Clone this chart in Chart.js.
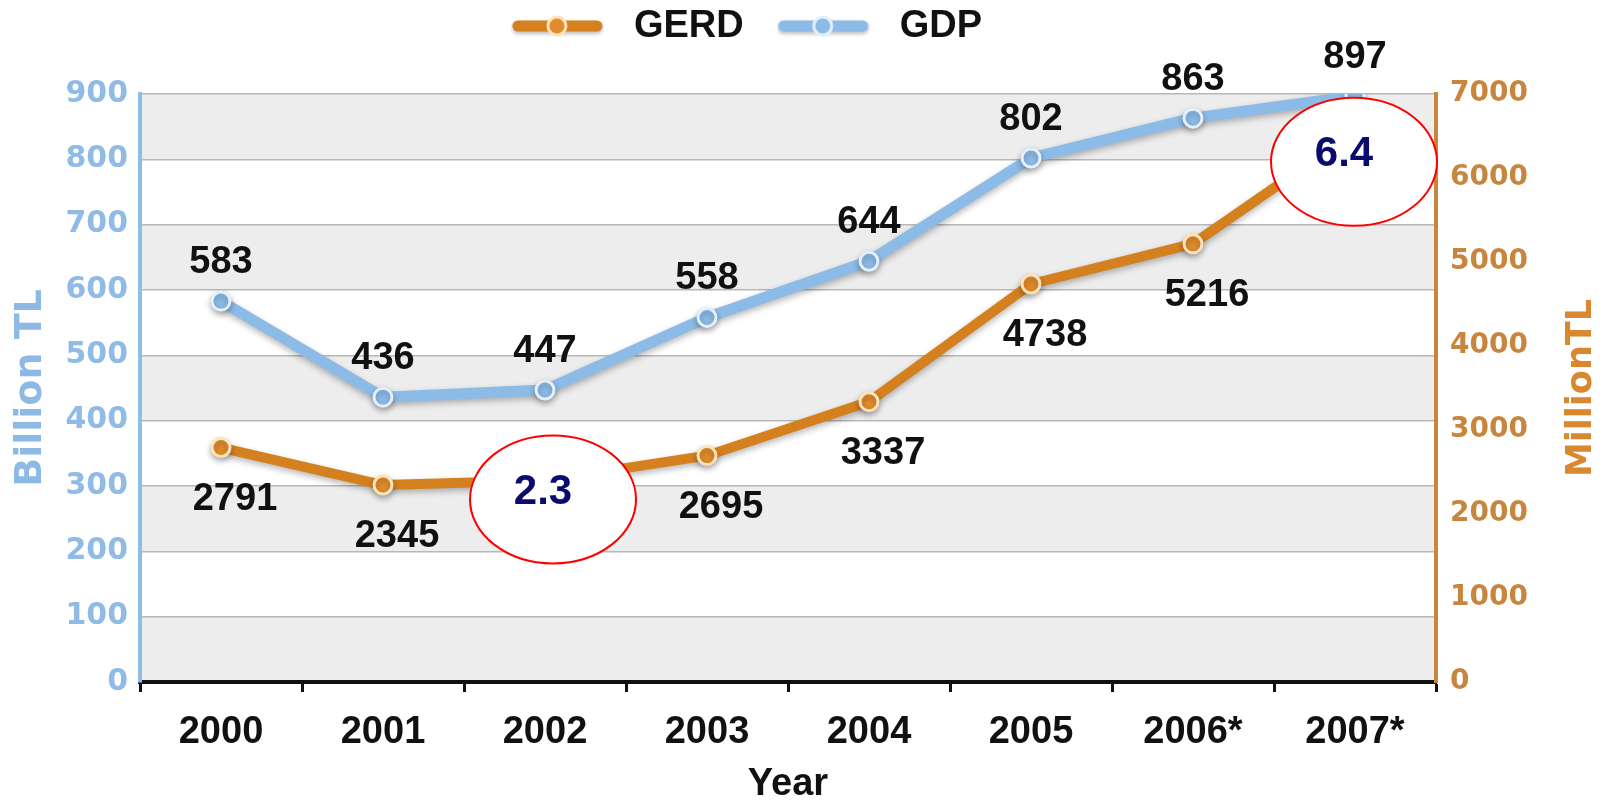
<!DOCTYPE html>
<html>
<head>
<meta charset="utf-8">
<script src="https://cdn.jsdelivr.net/npm/chart.js@4/dist/chart.umd.min.js"></script>
<style>
html,body{margin:0;padding:0;background:#ffffff;}
#wrap{width:1606px;height:802px;position:relative;}
</style>
</head>
<body>
<div id="wrap"><canvas id="c" width="1606" height="802"></canvas></div>
<script>
// ---- data ----
const categories = ['2000', '2001', '2002', '2003', '2004', '2005', '2006*', '2007*'];
const gdpValues  = [583, 436, 447, 558, 644, 802, 863, 897];          // Billion TL (left axis)
const gerdValues = [2791, 2345, 2400, 2695, 3337, 4738, 5216, 6550];  // Million TL (right axis)
const gdpLabels  = ['583', '436', '447', '558', '644', '802', '863', '897'];
const gerdLabels = ['2791', '2345', null, '2695', '3337', '4738', '5216', null];
const leftTicks  = [0, 100, 200, 300, 400, 500, 600, 700, 800, 900];
const rightTicks = [0, 1000, 2000, 3000, 4000, 5000, 6000, 7000];
const noteTexts      = ['2.3', '6.4'];
const noteCategories = [2, 7];

// ---- styles ----
const SANS = '"Liberation Sans", Arial, sans-serif';
const WIDE = '"DejaVu Sans", Verdana, sans-serif';
const BLUE = '#8dbbe7';
const ORANGE = '#d4801f';

function makeIcon(line, fill, border) {
  const c = document.createElement('canvas');
  c.width = 93; c.height = 30;
  const g = c.getContext('2d');
  g.shadowColor = 'rgba(0,0,0,0.3)'; g.shadowBlur = 4; g.shadowOffsetY = 2;
  g.strokeStyle = line; g.lineWidth = 11; g.lineCap = 'round';
  g.beginPath(); g.moveTo(7, 14); g.lineTo(86, 14); g.stroke();
  g.shadowColor = 'transparent';
  g.beginPath(); g.arc(46, 14, 9, 0, Math.PI * 2);
  g.fillStyle = fill; g.fill();
  g.lineWidth = 3; g.strokeStyle = border; g.stroke();
  return c;
}
const icons = [makeIcon(ORANGE, '#e08c2c', '#fde3bb'), makeIcon(BLUE, '#8dbbe7', '#e3f0fc')];

const legendShift = {
  id: 'legendShift',
  afterLayout(chart) {
    if (chart.legend) { chart.legend.left -= 62; chart.legend.right -= 62; }
  }
};

const bandsPlugin = {
  id: 'bands',
  beforeDraw(chart) {
    const {ctx, chartArea: a, scales: {y}} = chart;
    ctx.save();
    ctx.fillStyle = '#ffffff';
    ctx.fillRect(a.left, a.top, a.right - a.left, a.bottom - a.top);
    for (let i = 0; i < leftTicks.length - 1; i++) {
      if (i % 2 !== 0) continue;
      const yb = y.getPixelForValue(leftTicks[i]);
      const yt = y.getPixelForValue(leftTicks[i + 1]);
      ctx.fillStyle = '#ededed';
      ctx.fillRect(a.left, yt, a.right - a.left, yb - yt);
    }
    ctx.restore();
  }
};

const shadowPlugin = {
  id: 'lineShadow',
  beforeDatasetDraw(chart) {
    const ctx = chart.ctx;
    ctx.save();
    ctx.shadowColor = 'rgba(0,0,0,0.28)';
    ctx.shadowBlur = 6;
    ctx.shadowOffsetY = 3;
  },
  afterDatasetDraw(chart) { chart.ctx.restore(); }
};

const labelPlugin = {
  id: 'valueLabels',
  afterDatasetsDraw(chart) {
    const ctx = chart.ctx;
    ctx.save();
    ctx.font = 'bold 38px ' + SANS;
    ctx.fillStyle = '#111111';
    ctx.textBaseline = 'alphabetic';
    ctx.textAlign = 'center';
    const setLabels = [gerdLabels, gdpLabels];
    chart.data.datasets.forEach((ds, i) => {
      const meta = chart.getDatasetMeta(i);
      meta.data.forEach((pt, j) => {
        const t = setLabels[i][j];
        if (!t) return;
        if (i === 0) ctx.fillText(t, pt.x + 14, pt.y + 62);
        else ctx.fillText(t, pt.x, pt.y - 28);
      });
    });
    ctx.restore();
  }
};

const notePlugin = {
  id: 'notes',
  afterDraw(chart) {
    const {ctx, scales: {x, y2}} = chart;
    const offs = [{dx: 8, dy: 19}, {dx: -1, dy: 30}];
    ctx.save();
    noteTexts.forEach((t, k) => {
      const idx = noteCategories[k];
      const cx = x.getPixelForValue(idx) + offs[k].dx;
      const cy = y2.getPixelForValue(gerdValues[idx]) + offs[k].dy;
      ctx.beginPath();
      ctx.ellipse(cx, cy, 83, 64, 0, 0, Math.PI * 2);
      ctx.fillStyle = '#ffffff';
      ctx.fill();
      ctx.lineWidth = 2;
      ctx.strokeStyle = '#ff0000';
      ctx.stroke();
      ctx.font = 'bold 42px ' + SANS;
      ctx.fillStyle = '#0b0b6e';
      ctx.textAlign = 'center';
      ctx.textBaseline = 'middle';
      ctx.fillText(t, cx - 10, cy - 7);
    });
    // right axis title (reads bottom to top)
    ctx.translate(chart.width - 24, (chart.chartArea.top + chart.chartArea.bottom) / 2);
    ctx.rotate(-Math.PI / 2);
    ctx.font = 'bold 35px ' + WIDE;
    ctx.fillStyle = '#d9882f';
    ctx.textAlign = 'center';
    ctx.textBaseline = 'middle';
    ctx.fillText('MillionTL', 0, 0);
    ctx.restore();
  }
};

new Chart(document.getElementById('c'), {
  type: 'line',
  data: {
    labels: categories,
    datasets: [
      {
        label: 'GERD', data: gerdValues, yAxisID: 'y2',
        borderColor: ORANGE, backgroundColor: ORANGE, borderWidth: 10,
        borderJoinStyle: 'round', borderCapStyle: 'round', tension: 0,
        pointRadius: 9, pointBackgroundColor: '#e08c2c', pointBorderColor: '#fde3bb', pointBorderWidth: 3
      },
      {
        label: 'GDP', data: gdpValues, yAxisID: 'y',
        borderColor: BLUE, backgroundColor: BLUE, borderWidth: 11,
        borderJoinStyle: 'round', borderCapStyle: 'round', tension: 0,
        pointRadius: 9, pointBackgroundColor: '#8dbbe7', pointBorderColor: '#e3f0fc', pointBorderWidth: 3
      }
    ]
  },
  options: {
    responsive: false,
    devicePixelRatio: 1,
    animation: false,
    layout: {padding: {top: -14, right: 0, left: 0, bottom: 0}},
    plugins: {
      tooltip: {enabled: false},
      title: {display: true, text: '', weight: 500, font: {size: 10, lineHeight: 1}, padding: {top: 28, bottom: 0}},
      legend: {
        display: true, position: 'top', align: 'center',
        labels: {
          usePointStyle: true, pointStyleWidth: 115, padding: 22,
          font: {family: SANS, weight: 'bold', size: 38}, color: '#111111',
          generateLabels(chart) {
            const items = Chart.defaults.plugins.legend.labels.generateLabels(chart);
            items.forEach((it, i) => { it.pointStyle = icons[i]; it.fontColor = '#111111'; });
            return items;
          }
        }
      }
    },
    scales: {
      x: {
        type: 'category', offset: true,
        grid: {offset: true, drawOnChartArea: false, drawTicks: true, tickLength: 10, tickWidth: 3, tickColor: '#111111'},
        border: {display: true, color: '#111111', width: 4},
        ticks: {font: {family: SANS, weight: 'bold', size: 38}, color: '#111111', padding: 18, maxRotation: 0, autoSkip: false},
        title: {display: true, text: 'Year', font: {family: SANS, weight: 'bold', size: 38, lineHeight: 0.9}, color: '#111111', padding: {top: 0, bottom: 0}},
        afterFit(s) { s.height = 120; }
      },
      y: {
        position: 'left', min: 0, max: 900,
        afterBuildTicks(s) { s.ticks = leftTicks.map(v => ({value: v})); },
        ticks: {font: {family: WIDE, weight: 'bold', size: 30}, color: '#8fbbe5', padding: 12, callback: v => String(v)},
        grid: {color: '#b8b8b8', lineWidth: 1.5, drawTicks: false},
        border: {color: '#90bce6', width: 4},
        title: {display: true, text: 'Billion TL', font: {family: WIDE, weight: 'bold', size: 38}, color: '#8db9e4', padding: {top: 8, bottom: 0}},
        afterFit(s) { s.width = 140; }
      },
      y2: {
        position: 'right', min: 0, max: 7000,
        afterBuildTicks(s) { s.ticks = rightTicks.map(v => ({value: v})); },
        ticks: {font: {family: WIDE, weight: 'bold', size: 28}, color: '#c8853d', padding: 14, callback: v => String(v)},
        grid: {drawOnChartArea: false, drawTicks: false},
        border: {color: '#c8853d', width: 4},
        afterFit(s) { s.width = 170; }
      }
    }
  },
  plugins: [legendShift, bandsPlugin, shadowPlugin, labelPlugin, notePlugin]
});
</script>
</body>
</html>
